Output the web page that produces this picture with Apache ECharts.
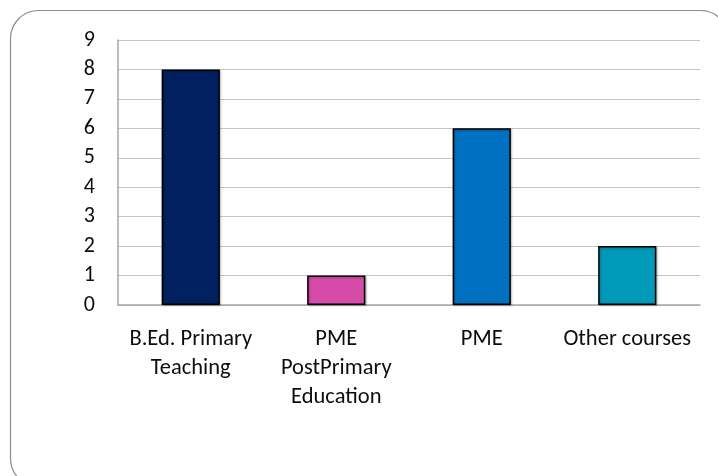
<!DOCTYPE html>
<html>
<head>
<meta charset="utf-8">
<script src="https://cdn.jsdelivr.net/npm/echarts@6/dist/echarts.min.js"></script>
<style>
  html, body { margin: 0; padding: 0; background: #ffffff; }
  #chart { width: 718px; height: 476px; }
</style>
</head>
<body>
<div id="chart"></div>
<script>
// Course categories (line breaks as shown under the axis)
const categories = ['B.Ed. Primary\nTeaching', 'PME\nPostPrimary\nEducation', 'PME', 'Other courses'];
// Number of respondents per course
const counts = [8, 1, 6, 2];
// One fill colour per bar
const barColors = ['#002060', '#D64BA8', '#0070C0', '#0099B9'];
// Value axis range
const yMin = 0, yMax = 9, yStep = 1;

const fontFamily = 'Carlito, Lato, "Open Sans", sans-serif';

const chart = echarts.init(document.getElementById('chart'), null, { renderer: 'canvas' });

chart.setOption({
  backgroundColor: '#ffffff',
  animation: false,
  graphic: [{
    type: 'rect',
    shape: { x: 10.5, y: 10.5, width: 718, height: 476, r: 28 },
    style: { fill: 'none', stroke: '#8c8c8c', lineWidth: 1.2 },
    silent: true,
    z: -1
  }],
  grid: { left: 118, right: 18, top: 40, bottom: 171, containLabel: false },
  xAxis: {
    type: 'category',
    data: categories,
    axisLine: { show: true, lineStyle: { color: '#a6a6a6', width: 1.5 } },
    axisTick: { show: false },
    axisLabel: {
      color: '#0d0d0d',
      fontFamily: fontFamily,
      fontSize: 22.5,
      lineHeight: 29,
      margin: 20,
      interval: 0,
      align: 'center'
    }
  },
  yAxis: {
    type: 'value',
    min: yMin,
    max: yMax,
    interval: yStep,
    axisLine: { show: true, lineStyle: { color: '#a6a6a6', width: 1.5 } },
    axisTick: { show: false },
    axisLabel: {
      color: '#0d0d0d',
      fontFamily: fontFamily,
      fontSize: 22,
      margin: 23
    },
    splitLine: { show: true, lineStyle: { color: '#c4c4c4', width: 1.2 } }
  },
  series: [{
    type: 'bar',
    barWidth: '40%',
    data: counts.map((v, i) => ({
      value: v,
      itemStyle: { color: barColors[i] }
    })),
    itemStyle: {
      borderColor: '#000000',
      borderWidth: 1.5,
      shadowColor: 'rgba(0,0,0,0.25)',
      shadowBlur: 2,
      shadowOffsetX: 1,
      shadowOffsetY: 1
    }
  }]
});
</script>
</body>
</html>
